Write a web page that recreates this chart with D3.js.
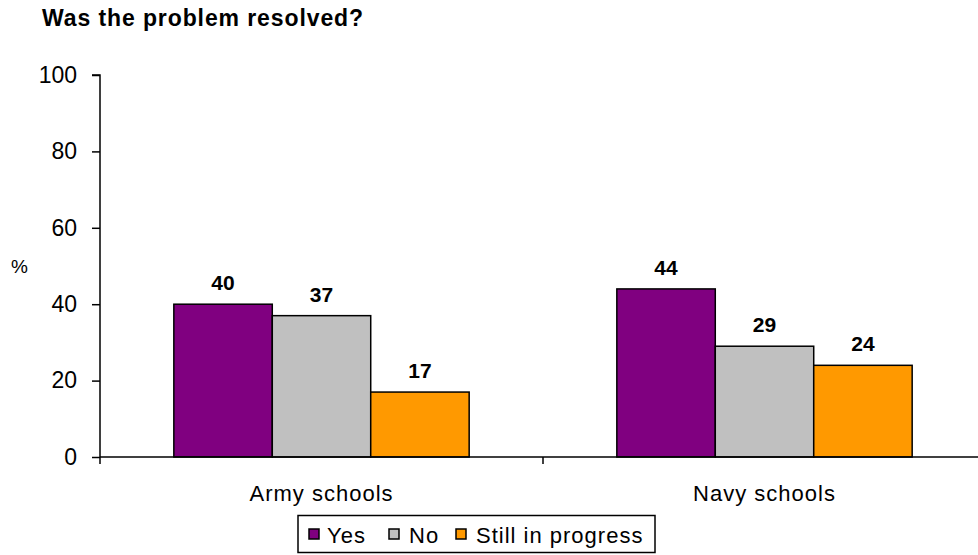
<!DOCTYPE html>
<html>
<head>
<meta charset="utf-8">
<script src="https://cdn.jsdelivr.net/npm/d3@7"></script>
<style>
  html, body { margin: 0; padding: 0; background: #fff; }
  svg { display: block; font-family: "Liberation Sans", Arial, sans-serif; }
</style>
</head>
<body>
<svg id="chart" width="978" height="555"></svg>
<script>
// Survey results: share of responses per school type
const categories = ["Army schools", "Navy schools"];
const seriesNames = ["Yes", "No", "Still in progress"];
const yesValues = [40, 44];
const noValues = [37, 29];
const progressValues = [17, 24];
const yTicks = [0, 20, 40, 60, 80, 100];
const seriesColors = ["#800080", "#C0C0C0", "#FF9900"];

const seriesValues = [yesValues, noValues, progressValues];
const rows = categories.map((c, i) => ({
  category: c,
  values: seriesNames.map((s, j) => ({ series: s, value: seriesValues[j][i], color: seriesColors[j] }))
}));

const svg = d3.select("#chart");
const plotLeft = 100, plotRight = 986, plotTop = 75, plotBottom = 457;

const x0 = d3.scaleBand().domain(categories).range([plotLeft, plotRight]).paddingInner(0).paddingOuter(0);
// Bars take 3/4.5 of each band, leaving the rest as gap
const groupWidth = x0.bandwidth() * 3 / 4.5;
const x1 = d3.scaleBand().domain(seriesNames).range([0, groupWidth]).padding(0);
const y = d3.scaleLinear().domain([0, 100]).range([plotBottom, plotTop]);

// Title
svg.append("text")
  .attr("x", 42).attr("y", 26)
  .attr("font-size", 23).attr("font-weight", "bold")
  .attr("letter-spacing", 0.9)
  .attr("fill", "#000")
  .text("Was the problem resolved?");

// Y axis
const yAxis = d3.axisLeft(y).tickValues(yTicks).tickSize(8).tickPadding(15).tickFormat(d3.format("d"));
const gy = svg.append("g").attr("transform", `translate(${plotLeft},0)`).call(yAxis);
gy.select(".domain").attr("stroke", "#000").attr("stroke-width", 1.5).attr("d", `M-8,${plotTop}H0V${plotBottom}`);
gy.selectAll(".tick line").attr("stroke", "#000").attr("stroke-width", 1.5);
gy.selectAll(".tick text").attr("font-size", 23).attr("fill", "#000").attr("font-family", "Liberation Sans, Arial, sans-serif");

// Y axis unit
svg.append("text")
  .attr("x", 11).attr("y", 273)
  .attr("font-size", 19).attr("fill", "#000")
  .text("%");

// Bars
const groups = svg.append("g").selectAll("g")
  .data(rows).join("g")
  .attr("transform", d => `translate(${x0(d.category) + (x0.bandwidth() - groupWidth) / 2},0)`);

groups.selectAll("rect")
  .data(d => d.values).join("rect")
  .attr("x", d => x1(d.series))
  .attr("y", d => y(d.value))
  .attr("width", x1.bandwidth())
  .attr("height", d => y(0) - y(d.value))
  .attr("fill", d => d.color)
  .attr("stroke", "#000")
  .attr("stroke-width", 1.5);

// Value labels
groups.selectAll("text.val")
  .data(d => d.values).join("text")
  .attr("class", "val")
  .attr("x", d => x1(d.series) + x1.bandwidth() / 2)
  .attr("y", d => y(d.value) - 14)
  .attr("text-anchor", "middle")
  .attr("font-size", 21).attr("font-weight", "bold").attr("fill", "#000")
  .text(d => d.value);

// X axis
const xAxis = d3.axisBottom(x0).tickSize(0).tickPadding(28);
const gx = svg.append("g").attr("transform", `translate(0,${plotBottom})`).call(xAxis);
gx.select(".domain").attr("stroke", "#000").attr("stroke-width", 1.5).attr("d", `M${plotLeft},0H${plotRight}`);
gx.selectAll(".tick text").attr("font-size", 22).attr("letter-spacing", 1).attr("fill", "#000")
  .attr("font-family", "Liberation Sans, Arial, sans-serif")
  .attr("dy", "0.71em").attr("y", 28);
// Category separators below the axis
const seps = [plotLeft].concat(categories.slice(1).map(c => x0(c)));
gx.selectAll("line.sep").data(seps).join("line")
  .attr("class", "sep")
  .attr("x1", d => d).attr("x2", d => d)
  .attr("y1", 0).attr("y2", 7)
  .attr("stroke", "#000").attr("stroke-width", 1.5);

// Legend
const legend = svg.append("g");
legend.append("rect")
  .attr("x", 298).attr("y", 515.5).attr("width", 357).attr("height", 37)
  .attr("fill", "#fff").attr("stroke", "#000").attr("stroke-width", 1.5);
const legendX = [309, 389, 456];
seriesNames.forEach((s, i) => {
  legend.append("rect")
    .attr("x", legendX[i]).attr("y", 529).attr("width", 10).attr("height", 10)
    .attr("fill", seriesColors[i]).attr("stroke", "#000").attr("stroke-width", 1.5);
  legend.append("text")
    .attr("x", legendX[i] + (i === 0 ? 18 : 20)).attr("y", 543)
    .attr("font-size", 22).attr("letter-spacing", 1).attr("fill", "#000")
    .text(s);
});
</script>
</body>
</html>
